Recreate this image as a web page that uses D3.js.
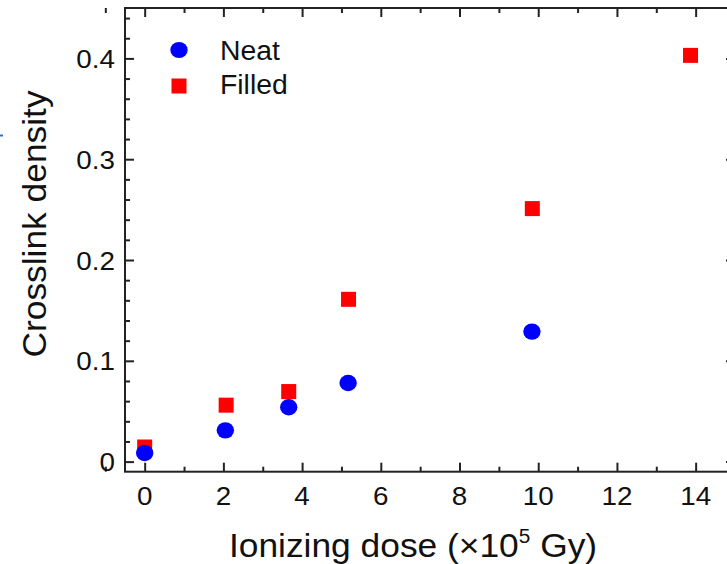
<!DOCTYPE html>
<html>
<head>
<meta charset="utf-8">
<script src="https://cdn.jsdelivr.net/npm/d3@7"></script>
<style>
  body { margin: 0; background: #fff; }
  text { font-family: Arial, "Liberation Sans", sans-serif; fill: #111; }
</style>
</head>
<body>
<div id="chart"></div>
<script>
// dose (x10^5 Gy) and crosslink density
const doseNeat = [0, 2.05, 3.66, 5.17, 9.84];
const neat = [0.0085, 0.031, 0.054, 0.078, 0.129];
const doseFilled = [0, 2.07, 3.66, 5.18, 9.85, 13.87];
const filled = [0.0145, 0.056, 0.0695, 0.161, 0.251, 0.403];

const xMajor = [0, 2, 4, 6, 8, 10, 12, 14];
const xMinor = [-1, 1, 3, 5, 7, 9, 11, 13, 15];
const yMajor = [0, 0.1, 0.2, 0.3, 0.4];
const yMinor = [0.02, 0.04, 0.06, 0.08, 0.12, 0.14, 0.16, 0.18, 0.22, 0.24, 0.26, 0.28, 0.32, 0.34, 0.36, 0.38, 0.42, 0.44];

const width = 727, height = 564;
const mLeft = 125, mRight = 735, mTop = 8, mBottom = 471.7;
// the original figure is a bit stretched sideways
const sx = 1.07;

const svg = d3.select("#chart").append("svg")
  .attr("width", width)
  .attr("height", height);

const x = d3.scaleLinear().domain([-0.5, 15]).range([mLeft, mRight]);
const y = d3.scaleLinear().domain([-0.01, 0.45]).range([mBottom, mTop]);

// tick marks, all pointing inward
function ticks(axis, tr, len) {
  const g = svg.append("g").attr("transform", tr).call(axis.tickSize(len));
  g.select(".domain").remove();
  g.selectAll("line").attr("stroke", "#222").attr("stroke-width", 2);
  return g;
}
ticks(d3.axisBottom(x).tickValues(xMajor).tickFormat(""), `translate(0,${mBottom})`, -9);
ticks(d3.axisBottom(x).tickValues(xMinor).tickFormat(""), `translate(0,${mBottom})`, -5);
ticks(d3.axisTop(x).tickValues(xMajor).tickFormat(""), `translate(0,${mTop})`, -9);
ticks(d3.axisTop(x).tickValues(xMinor).tickFormat(""), `translate(0,${mTop})`, -5);
ticks(d3.axisLeft(y).tickValues(yMajor).tickFormat(""), `translate(${mLeft},0)`, -9);
ticks(d3.axisLeft(y).tickValues(yMinor).tickFormat(""), `translate(${mLeft},0)`, -5);
ticks(d3.axisRight(y).tickValues(yMajor).tickFormat(""), `translate(${mRight},0)`, -9);
ticks(d3.axisRight(y).tickValues(yMinor).tickFormat(""), `translate(${mRight},0)`, -5);

// frame
svg.append("rect")
  .attr("x", mLeft).attr("y", mTop)
  .attr("width", mRight - mLeft).attr("height", mBottom - mTop)
  .attr("fill", "none").attr("stroke", "#222").attr("stroke-width", 2);

// tick labels
svg.selectAll(".xl").data(xMajor).enter().append("text")
  .attr("transform", d => `translate(${x(d)},505) scale(${sx},1)`)
  .attr("text-anchor", "middle").attr("font-size", 26)
  .text(d => d);
svg.selectAll(".yl").data(yMajor).enter().append("text")
  .attr("transform", d => `translate(115,${y(d) + 9.5}) scale(${sx},1)`)
  .attr("text-anchor", "end").attr("font-size", 26)
  .text(d => d === 0 ? "0" : d3.format(".1f")(d));

// axis titles
const xt = svg.append("text")
  .attr("transform", "translate(413,557) scale(1.04,1)")
  .attr("text-anchor", "middle").attr("font-size", 34);
xt.append("tspan").text("Ionizing dose (×10");
xt.append("tspan").attr("font-size", 20).attr("dy", -14).text("5");
xt.append("tspan").attr("dy", 14).text(" Gy)");

svg.append("text")
  .attr("transform", "translate(46,224) rotate(-90) scale(1.04,1)")
  .attr("text-anchor", "middle").attr("font-size", 34)
  .text("Crosslink density");

// data
svg.selectAll(".sq").data(filled).enter().append("rect")
  .attr("x", (d, i) => x(doseFilled[i]) - 7.5)
  .attr("y", d => y(d) - 7.5)
  .attr("width", 15).attr("height", 15)
  .attr("fill", "#ff0000");
svg.selectAll(".ci").data(neat).enter().append("ellipse")
  .attr("cx", (d, i) => x(doseNeat[i]))
  .attr("cy", d => y(d))
  .attr("rx", 8.7).attr("ry", 8.2)
  .attr("fill", "#0000ff");

// legend
svg.append("ellipse").attr("cx", 179).attr("cy", 50).attr("rx", 8.7).attr("ry", 8).attr("fill", "#0000ff");
svg.append("rect").attr("x", 171.5).attr("y", 78.5).attr("width", 15).attr("height", 15).attr("fill", "#ff0000");
svg.append("text").attr("transform", "translate(220,59.5) scale(1.05,1)").attr("font-size", 27).text("Neat");
svg.append("text").attr("transform", "translate(220,93.5) scale(1.05,1)").attr("font-size", 27).text("Filled");

// small blue mark at the left edge of the original figure
svg.append("rect").attr("x", 0).attr("y", 134.5).attr("width", 3).attr("height", 2).attr("fill", "#2a6fd6");
</script>
</body>
</html>
